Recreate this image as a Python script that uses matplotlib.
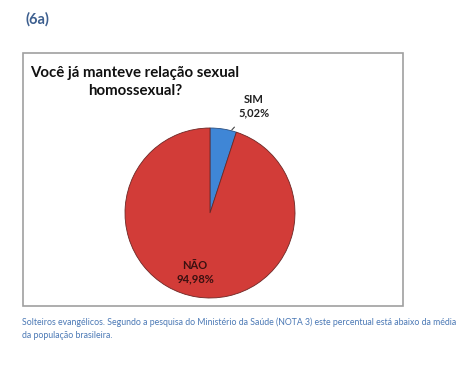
import numpy as np
import matplotlib
matplotlib.use("Agg")
import matplotlib.pyplot as plt
from matplotlib.patches import Rectangle

categorias = ["SIM", "NÃO"]
valores = [5.02, 94.98]
rotulos = ["5,02%", "94,98%"]
cores = ["#3f86d6", "#d23c38"]

titulo = "Você já manteve relação sexual\nhomossexual?"
legenda = ("Solteiros evangélicos. Segundo a pesquisa do Ministério da Saúde (NOTA 3) este percentual está abaixo da média\n"
           "da população brasileira.")

plt.rcParams['font.family'] = ['Lato', 'DejaVu Sans']

W, H = 466, 369
fig = plt.figure(figsize=(W / 100, H / 100), dpi=100)

def fx(px):
    return px / W

def fy(py):
    return 1 - py / H

# moldura do gráfico
fig.patches.append(Rectangle((fx(23), fy(306)), fx(403) - fx(23), fy(53) - fy(306),
                             transform=fig.transFigure, fill=False,
                             edgecolor="#a0a0a0", linewidth=1.2))

fig.text(fx(25), fy(19), "(6a)", color="#3d5f8f", fontsize=10.5, fontweight="bold",
         va="center", ha="left")
fig.text(fx(135), fy(82), titulo, fontsize=10.8, fontweight="bold", ha="center",
         va="center", linespacing=1.3, color="#111111")
fig.text(fx(22), fy(329), legenda, fontsize=6.3, color="#4a78b5", ha="left",
         va="center", linespacing=1.6)

# pizza
cx, cy, r = 210, 213, 85
ax = fig.add_axes([fx(cx - r), fy(cy + r), 2 * r / W, 2 * r / H])
wedges, _ = ax.pie(valores, colors=cores, startangle=90, counterclock=False,
                   radius=1, wedgeprops=dict(edgecolor="#6d2624", linewidth=0.6))
wedges[0].set_edgecolor("#2a4f80")
ax.set_xlim(-1, 1)
ax.set_ylim(-1, 1)
ax.set_aspect("auto")
ax.axis("off")

# rótulos
ang_sim = np.deg2rad(90 - valores[0] * 3.6 / 2)
ax.annotate(categorias[0] + "\n" + rotulos[0],
            xy=(np.cos(ang_sim) * 1.0 + 0.1, np.sin(ang_sim) * 0.99),
            xytext=(0.52, 1.26), ha="center", va="center", fontsize=8,
            fontweight="bold", color="#222222", linespacing=1.3,
            arrowprops=dict(arrowstyle="-", color="#444444", lw=0.8,
                            shrinkA=6, shrinkB=0))
ang_nao = np.deg2rad(90 - valores[0] * 3.6 - valores[1] * 3.6 / 2 - 5)
ax.text(np.cos(ang_nao) * 0.72, np.sin(ang_nao) * 0.72,
        categorias[1] + "\n" + rotulos[1], ha="center", va="center",
        fontsize=8, fontweight="bold", color="#3a1010", linespacing=1.3)

fig.savefig("out.png", dpi=100)
